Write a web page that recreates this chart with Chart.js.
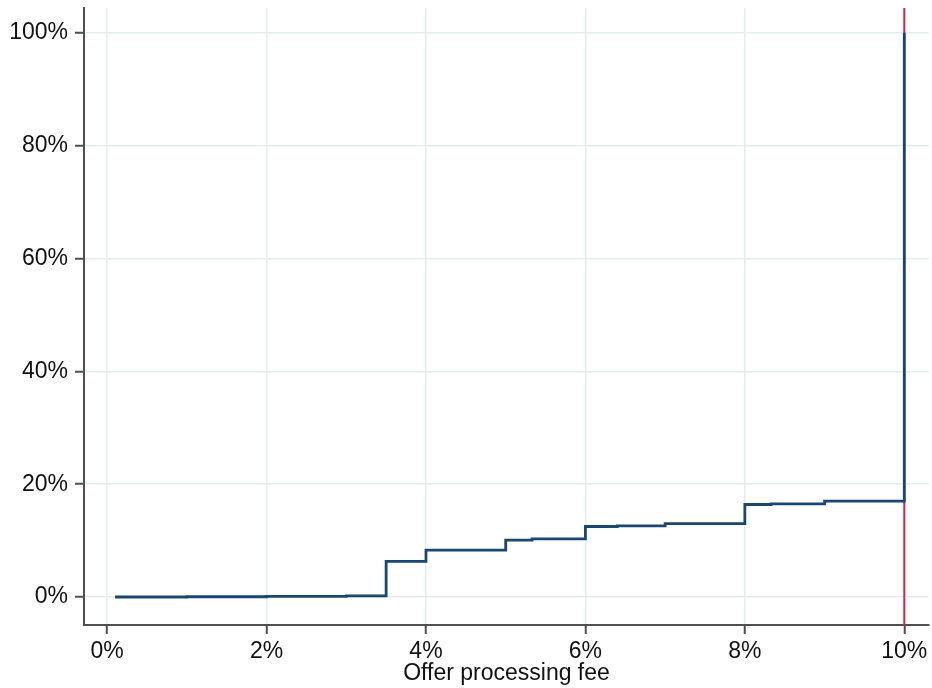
<!DOCTYPE html>
<html>
<head>
<meta charset="utf-8">
<script src="https://cdn.jsdelivr.net/npm/chart.js@4/dist/chart.umd.min.js"></script>
<style>
  html, body { margin: 0; padding: 0; background: #ffffff; }
  #wrap { width: 932px; height: 688px; }
</style>
</head>
<body>
<div id="wrap"><canvas id="c" width="932" height="688"></canvas></div>
<script>
// Empirical CDF of offer processing fee (percent)
const feeValues = [0.1, 1.0, 2.0, 3.0, 3.5, 4.0, 5.0, 5.33, 6.0, 6.4, 7.0, 8.0, 8.33, 9.0, 10.0];
const cdfValues = [0.0, 0.05, 0.1, 0.2, 6.3, 8.3, 10.1, 10.3, 12.5, 12.6, 13.0, 16.4, 16.5, 17.0, 100.0];
const capFee = 10;
const xTickValues = [0, 2, 4, 6, 8, 10];
const yTickValues = [0, 20, 40, 60, 80, 100];
const xTitle = 'Offer processing fee';
const xRange = [-0.29, 10.31];
const yRange = [-4.96, 104.4];

const cdfPoints = feeValues.map((x, i) => ({ x: x, y: cdfValues[i] }));
const capPoints = [{ x: capFee, y: yRange[0] }, { x: capFee, y: yRange[1] }];

const FONT = "'Liberation Sans', Arial, sans-serif";
const axisColor = '#4f4f4f';
const gridColor = '#e3edf0';

new Chart(document.getElementById('c'), {
  type: 'scatter',
  data: {
    datasets: [
      {
        label: 'CDF',
        data: cdfPoints,
        showLine: true,
        stepped: 'before',
        borderColor: '#1a476f',
        borderWidth: 2.8,
        pointRadius: 0,
        fill: false,
        order: 1
      },
      {
        label: 'Cap',
        data: capPoints,
        showLine: true,
        borderColor: '#d8264d',
        borderWidth: 2,
        pointRadius: 0,
        fill: false,
        order: 2
      }
    ]
  },
  options: {
    responsive: false,
    animation: false,
    devicePixelRatio: 1,
    layout: { padding: { top: 8, right: 3, left: 0, bottom: 0 } },
    plugins: {
      legend: { display: false },
      tooltip: { enabled: false },
      title: { display: false }
    },
    scales: {
      x: {
        type: 'linear',
        min: xRange[0],
        max: xRange[1],
        afterBuildTicks: (s) => { s.ticks = xTickValues.map(v => ({ value: v })); },
        afterFit: (s) => { s.height = 63; s.paddingLeft = 0; s.paddingRight = 0; },
        ticks: {
          callback: (v) => v + '%',
          color: '#111111',
          font: { family: FONT, size: 23 },
          padding: 4,
          maxRotation: 0,
          autoSkip: false
        },
        grid: {
          color: gridColor,
          lineWidth: 1.5,
          tickColor: axisColor,
          tickLength: 9,
          tickWidth: 2
        },
        border: { color: axisColor, width: 2 },
        title: {
          display: true,
          text: xTitle,
          color: '#111111',
          font: { family: FONT, size: 23 },
          padding: { top: 0, bottom: 1 }
        }
      },
      y: {
        type: 'linear',
        min: yRange[0],
        max: yRange[1],
        afterBuildTicks: (s) => { s.ticks = yTickValues.map(v => ({ value: v })); },
        afterFit: (s) => { s.width = 84; s.paddingTop = 0; s.paddingBottom = 0; },
        ticks: {
          callback: (v) => v + '%',
          color: '#111111',
          font: { family: FONT, size: 23 },
          padding: 7,
          autoSkip: false
        },
        grid: {
          color: gridColor,
          lineWidth: 1.5,
          tickColor: axisColor,
          tickLength: 9,
          tickWidth: 2
        },
        border: { color: axisColor, width: 2 }
      }
    }
  }
});
</script>
</body>
</html>
